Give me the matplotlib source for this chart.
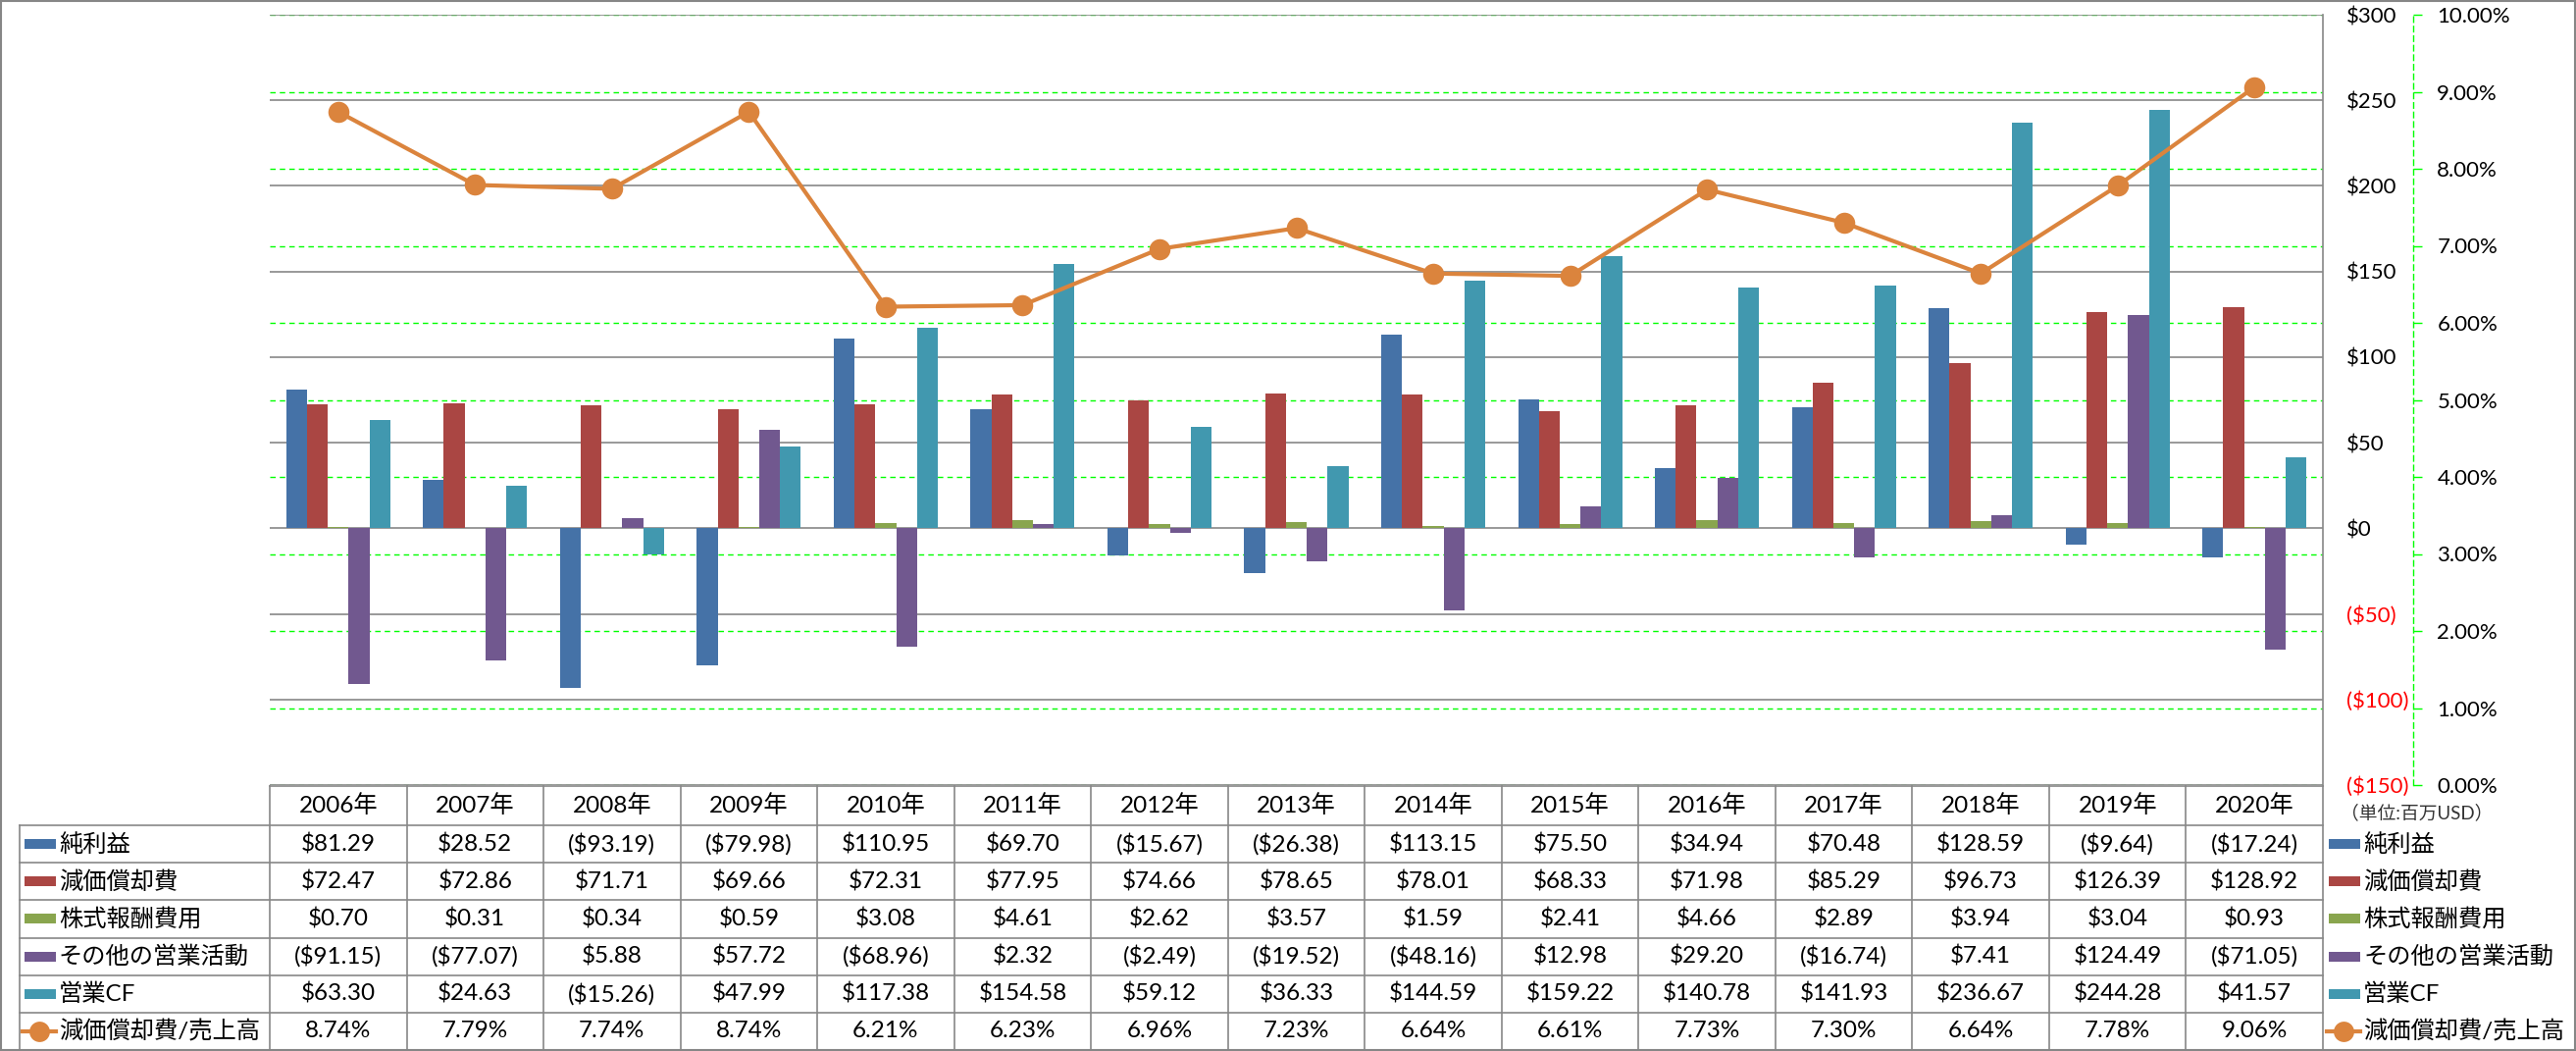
import matplotlib
matplotlib.use("Agg")
import matplotlib.pyplot as plt
from matplotlib.patches import Rectangle
from matplotlib.transforms import blended_transform_factory
import numpy as np

plt.rcParams['font.family'] = ['Lato', 'Noto Sans CJK JP', 'DejaVu Sans']

years = [2006, 2007, 2008, 2009, 2010, 2011, 2012, 2013, 2014, 2015, 2016, 2017, 2018, 2019, 2020]
categories = [f"{y}年" for y in years]
series_names = ["純利益", "減価償却費", "株式報酬費用", "その他の営業活動", "営業CF"]
line_name = "減価償却費/売上高"
net_income = [81.29, 28.52, -93.19, -79.98, 110.95, 69.70, -15.67, -26.38, 113.15, 75.50, 34.94, 70.48, 128.59, -9.64, -17.24]
depreciation = [72.47, 72.86, 71.71, 69.66, 72.31, 77.95, 74.66, 78.65, 78.01, 68.33, 71.98, 85.29, 96.73, 126.39, 128.92]
stock_comp = [0.70, 0.31, 0.34, 0.59, 3.08, 4.61, 2.62, 3.57, 1.59, 2.41, 4.66, 2.89, 3.94, 3.04, 0.93]
other_ops = [-91.15, -77.07, 5.88, 57.72, -68.96, 2.32, -2.49, -19.52, -48.16, 12.98, 29.20, -16.74, 7.41, 124.49, -71.05]
operating_cf = [63.30, 24.63, -15.26, 47.99, 117.38, 154.58, 59.12, 36.33, 144.59, 159.22, 140.78, 141.93, 236.67, 244.28, 41.57]
dep_ratio = [8.74, 7.79, 7.74, 8.74, 6.21, 6.23, 6.96, 7.23, 6.64, 6.61, 7.73, 7.30, 6.64, 7.78, 9.06]
usd_ticks = [300, 250, 200, 150, 100, 50, 0, -50, -100, -150]
pct_ticks = [0, 1, 2, 3, 4, 5, 6, 7, 8, 9, 10]
unit_note = "（単位:百万USD）"

series = [net_income, depreciation, stock_comp, other_ops, operating_cf]
colors = ["#4572A7", "#AA4643", "#89A54E", "#71588F", "#4198AF"]
line_color = "#DB843D"
grid_gray = "#878787"
green = "#00FF00"

W, H = 2626, 1071
fig = plt.figure(figsize=(W / 100, H / 100), dpi=100)
fig.patch.set_facecolor("white")

L, R, T, B = 275, 2368, 15, 800
ax = fig.add_axes([L / W, (H - B) / H, (R - L) / W, (B - T) / H])
ax.set_xlim(-0.5, len(years) - 0.5)
ax.set_ylim(-150, 300)
for s in ax.spines.values():
    s.set_visible(False)
ax.set_xticks([])

ax2 = ax.twinx()
ax2.set_ylim(0, 10)
ax2.set_xlim(-0.5, len(years) - 0.5)
for k, s in ax2.spines.items():
    s.set_visible(k == 'right')
ax2.spines['right'].set_position(('axes', (2460 - L) / (R - L)))
ax2.spines['right'].set_color(green)
ax2.spines['right'].set_linestyle((0, (4, 3)))
ax2.spines['right'].set_linewidth(1)
ax2.set_yticks(pct_ticks)
ax2.set_yticklabels([f"{v:.2f}%" for v in pct_ticks])
ax2.tick_params(axis='y', direction='out', length=6.5, width=1, color=green,
                pad=11, labelsize=16, labelcolor='black')

# primary axis labels on the right (after twinx)
ax.yaxis.tick_right()
ax.set_yticks(usd_ticks)
ax.set_yticklabels([f"${v}" if v >= 0 else f"(${-v})" for v in usd_ticks])
ax.tick_params(axis='y', which='both', left=False, labelleft=False, right=True, labelright=True,
               length=0, pad=17, labelsize=16)
for t, v in zip(ax.yaxis.get_major_ticks(), usd_ticks):
    t.label2.set_color('red' if v < 0 else 'black')

# gridlines
tr = blended_transform_factory(ax.transAxes, ax2.transData)
for p in pct_ticks:
    ax.plot([0, 1], [p, p], transform=tr, color=green, lw=1, ls=(0, (4, 3)), zorder=0.5)
for v in usd_ticks:
    ax.axhline(v, color=grid_gray, lw=1.2, zorder=1)

x = np.arange(len(years))
bw = 0.152
for i, (vals, c) in enumerate(zip(series, colors)):
    ax.bar(x + (i - 2) * bw, vals, width=bw, color=c, zorder=2, linewidth=0)

ax2.plot(x, dep_ratio, color=line_color, lw=3, marker='o', markersize=15.5,
         markeredgewidth=0, zorder=5)

# overlay for table
ov = fig.add_axes([0, 0, 1, 1])
ov.set_xlim(0, W)
ov.set_ylim(H, 0)
ov.axis('off')
ov.patch.set_visible(False)

def fmt_usd(v):
    return f"${v:.2f}" if v >= 0 else f"(${-v:.2f})"

tc = grid_gray
tlw = 1.2
header_top, header_bot = 801, 841
row_h = (1070 - 841) / 6
row_edges = [header_bot + i * row_h for i in range(7)]
col_w = (R - L) / len(years)
fs = 17.5
fam = ['Lato', 'Noto Sans CJK JP']

ov.plot([L, R], [header_top, header_top], color=tc, lw=tlw)
for ye in row_edges:
    ov.plot([20, R], [ye, ye], color=tc, lw=tlw)
for j in range(len(years) + 1):
    xx = L + j * col_w
    ov.plot([xx, xx], [header_top, row_edges[-1]], color=tc, lw=tlw)
ov.plot([R, R], [T, header_top], color=tc, lw=tlw)
ov.plot([20, 20], [header_bot, row_edges[-1]], color=tc, lw=tlw)

for j, cat in enumerate(categories):
    ov.text(L + (j + 0.5) * col_w, (header_top + header_bot) / 2, cat, ha='center', va='center',
            fontsize=fs, family=fam)

rows_text = [[fmt_usd(v) for v in s] for s in series] + [[f"{v:.2f}%" for v in dep_ratio]]
for r in range(6):
    yc = (row_edges[r] + row_edges[r + 1]) / 2
    for j in range(len(years)):
        ov.text(L + (j + 0.5) * col_w, yc, rows_text[r][j], ha='center', va='center',
                fontsize=fs, family=fam)

names = series_names + [line_name]
for r in range(6):
    yc = (row_edges[r] + row_edges[r + 1]) / 2
    for kx, tx in [(25, 60), (2374, 2409)]:
        if r < 5:
            ov.add_patch(Rectangle((kx, yc - 5), 32, 10, color=colors[r], lw=0))
        else:
            ov.plot([kx - 2, kx + 32], [yc, yc], color=line_color, lw=3)
            ov.plot([kx + 15], [yc], marker='o', color=line_color, markersize=15, markeredgewidth=0)
        ov.text(tx, yc, names[r], ha='left', va='center', fontsize=fs, family=fam)

ov.text(2386, 828, unit_note, ha='left', va='center', fontsize=13.5, family=fam, color='#333333')

ov.add_patch(Rectangle((1, 1), W - 2, H - 2, fill=False, edgecolor='#868686', lw=1.5))

fig.savefig("out.png", dpi=100)
